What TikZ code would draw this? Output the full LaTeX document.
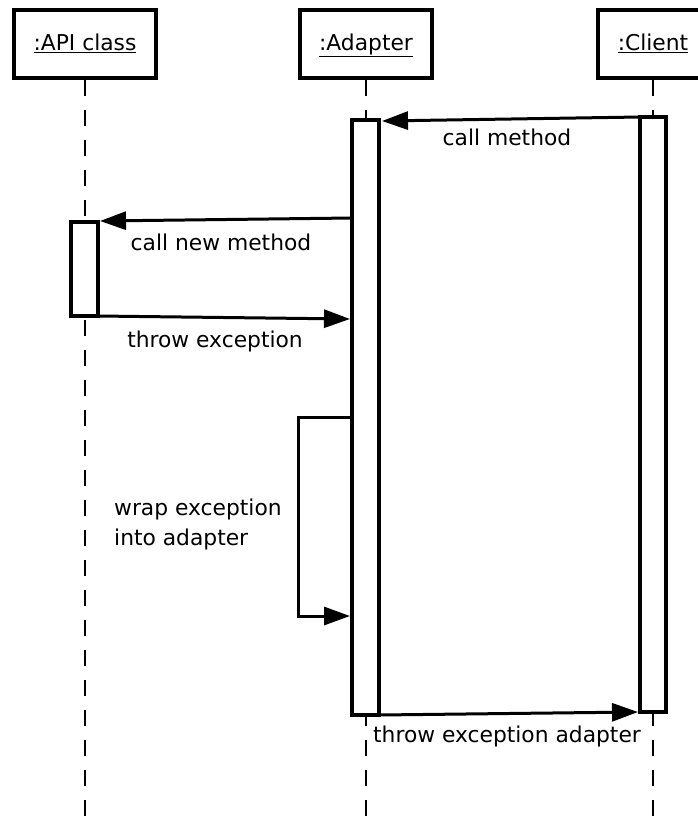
\documentclass[tikz,border=0pt]{standalone}
\usepackage{fontspec}
\setmainfont{DejaVu Sans}
\usetikzlibrary{arrows.meta}
\begin{document}
\begin{tikzpicture}[x=1pt,y=-1pt,
  font=\fontsize{21.8}{30}\selectfont,
  head/.style={draw,line width=4pt,minimum width=#1,minimum height=68pt,inner sep=0pt,fill=white,text height=18pt,text depth=6pt},
  bar/.style={draw,line width=3.5pt,fill=white,minimum width=27pt,inner sep=0pt,minimum height=#1},
  life/.style={line width=2pt,dash pattern=on 16pt off 14pt},
  msg/.style={line width=3pt,-{Triangle[length=26pt,width=18pt]}},
  lbl/.style={inner sep=0pt}]
\useasboundingbox (0,0) rectangle (698,820);
% heads
\node[head=142pt] (api) at (85,44) {\underline{:API class}};
\node[head=132pt] (adp) at (366,44) {\underline{:Adapter}};
\node[head=110pt] (cli) at (653,44) {\underline{:Client}};
% lifelines
\coordinate (apiend) at (85,820);
\coordinate (adpend) at (366,820);
\coordinate (cliend) at (653,820);
\draw[life] (api.south) -- (apiend);
\draw[life] (adp.south) -- (adpend);
\draw[life] (cli.south) -- (cliend);
% activation bars
\node[bar=595pt] (abar) at (365.5,417.5) {};
\node[bar=595pt,minimum width=26pt] (cbar) at (653,414.5) {};
\node[bar=94pt] (pbar) at (84.5,269) {};
% message endpoints
\coordinate (m1s) at (640,117);
\coordinate (m1e) at (382,121);
\coordinate (m2s) at (352,218);
\coordinate (m2e) at (100,221);
\coordinate (m3s) at (98,316);
\coordinate (m3e) at (350,319);
\coordinate (m4s) at (352,417);
\coordinate (m4a) at (298,417);
\coordinate (m4b) at (298,616);
\coordinate (m4e) at (350,616);
\coordinate (m5s) at (379,715);
\coordinate (m5e) at (638,712);
% messages
\draw[msg] (m1s) -- (m1e);
\draw[msg] (m2s) -- (m2e);
\draw[msg] (m3s) -- (m3e);
\draw[msg,line join=miter] (m4s) -- (m4a) -- (m4b) -- (m4e);
\draw[msg] (m5s) -- (m5e);
% labels
\node[lbl] (l1) at (507,137) {call method};
\node[lbl] (l2) at (221,242) {call new method};
\node[lbl] (l3) at (215,341) {throw exception};
\node[lbl,anchor=west] (l4a) at (114,509) {wrap exception};
\node[lbl,anchor=west] (l4b) at (114,539) {into adapter};
\node[lbl] (l5) at (507,736) {throw exception adapter};
\end{tikzpicture}
\end{document}
